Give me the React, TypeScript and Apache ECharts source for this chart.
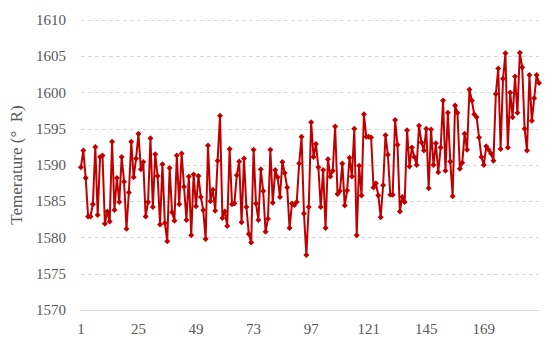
import React, { useEffect, useRef } from "react";
import * as echarts from "echarts";

const temperatures: number[] = [
  1589.7, 1592.0, 1588.2, 1582.9, 1582.9, 1584.6, 1592.5, 1583.1, 1591.1, 1591.3,
  1581.9, 1583.6, 1582.2, 1593.2, 1583.8, 1588.2, 1584.9, 1591.1, 1587.7, 1581.2,
  1586.2, 1593.2, 1588.3, 1590.9, 1594.3, 1589.4, 1590.4, 1582.9, 1584.9, 1593.7,
  1584.2, 1591.5,
  1588.5, 1581.8, 1590.1, 1582.0, 1579.5, 1589.6, 1583.5, 1582.3, 1591.3, 1584.6,
  1591.6, 1587.0, 1582.4, 1588.4, 1580.3, 1588.7, 1584.3, 1588.5, 1585.6, 1583.8,
  1579.8, 1592.7, 1585.0, 1586.6, 1583.7, 1590.6, 1596.8, 1582.7, 1583.6, 1581.6,
  1592.2, 1584.6,
  1584.7, 1588.6, 1590.5, 1582.1, 1590.9, 1584.2, 1580.5, 1579.3, 1592.1, 1584.7,
  1582.4, 1589.4, 1586.4, 1580.8, 1582.6, 1592.1, 1584.8, 1589.3, 1588.3, 1585.6,
  1590.4, 1588.9, 1586.9, 1581.3, 1584.7, 1584.5, 1584.9, 1590.2, 1593.9, 1583.3,
  1577.6, 1584.2, 1595.9,
  1591.1, 1592.9, 1589.7, 1584.2, 1589.3, 1581.3, 1590.8, 1588.4, 1589.2, 1595.3,
  1586.0, 1586.4, 1590.2, 1584.4, 1586.5, 1591.0, 1588.4, 1595.0, 1580.3, 1589.9,
  1585.8, 1597.0, 1593.9, 1593.9, 1593.8, 1586.9, 1587.5, 1585.8, 1582.8, 1587.2,
  1594.1, 1591.4,
  1585.9, 1585.9, 1596.2, 1592.8, 1583.6, 1585.6, 1584.9, 1594.8, 1589.8, 1592.4,
  1591.1, 1590.0, 1595.4, 1593.1, 1592.0, 1595.0, 1586.8, 1594.9, 1590.0, 1593.0,
  1589.0, 1592.4, 1598.9, 1589.2, 1597.2, 1590.5, 1585.7, 1598.2, 1597.2, 1589.5,
  1590.3, 1594.3,
  1592.1, 1600.4, 1598.9, 1597.0, 1596.6, 1593.8, 1591.1, 1590.0, 1592.6, 1592.1,
  1591.6, 1590.6, 1599.8, 1603.3, 1592.2, 1601.9, 1605.4, 1592.4, 1600.0, 1596.6,
  1602.2, 1597.2, 1605.5, 1603.5, 1595.0, 1592.0, 1602.4, 1596.1, 1599.2, 1602.4,
  1601.3,
];

const categories: string[] = temperatures.map((_, i) => String(i + 1));

const yMin = 1570;
const yMax = 1610;
const yStep = 5;
const labelStep = 24;
const yAxisTitle = "Temerature (°  R)";

export default function App() {
  const ref = useRef<HTMLDivElement>(null);
  useEffect(() => {
    document.body.style.margin = "0";
    if (!ref.current) return;
    const chart = echarts.init(ref.current, undefined, { renderer: "svg" });
    const font = "'Liberation Serif', 'DejaVu Serif', serif";
    chart.setOption({
      animation: false,
      backgroundColor: "#ffffff",
      grid: { left: 73, right: 11, top: 20, bottom: 37, containLabel: false },
      xAxis: {
        type: "category",
        data: categories,
        boundaryGap: false,
        axisLine: { show: true, lineStyle: { color: "#d9d9d9", width: 1 } },
        axisTick: { show: false },
        axisLabel: {
          interval: labelStep - 1,
          color: "#595959",
          fontFamily: font,
          fontSize: 15,
          margin: 11,
        },
        splitLine: { show: false },
      },
      yAxis: {
        type: "value",
        min: yMin,
        max: yMax,
        interval: yStep,
        name: yAxisTitle,
        nameLocation: "middle",
        nameGap: 50,
        nameTextStyle: { color: "#595959", fontFamily: font, fontSize: 17 },
        axisLine: { show: false },
        axisTick: { show: false },
        axisLabel: {
          color: "#595959",
          fontFamily: font,
          fontSize: 15,
          margin: 15,
          formatter: (v: number) => String(v),
        },
        splitLine: { show: true, lineStyle: { color: "#d9d9d9", type: [4, 3], width: 1 } },
      },
      series: [
        {
          type: "line",
          data: temperatures,
          symbol: "diamond",
          symbolSize: 6,
          showSymbol: true,
          showAllSymbol: true,
          lineStyle: { color: "#C00000", width: 2 },
          itemStyle: { color: "#C00000" },
        },
      ],
    });
    return () => chart.dispose();
  }, []);
  return <div ref={ref} style={{ width: 550, height: 347 }} />;
}
